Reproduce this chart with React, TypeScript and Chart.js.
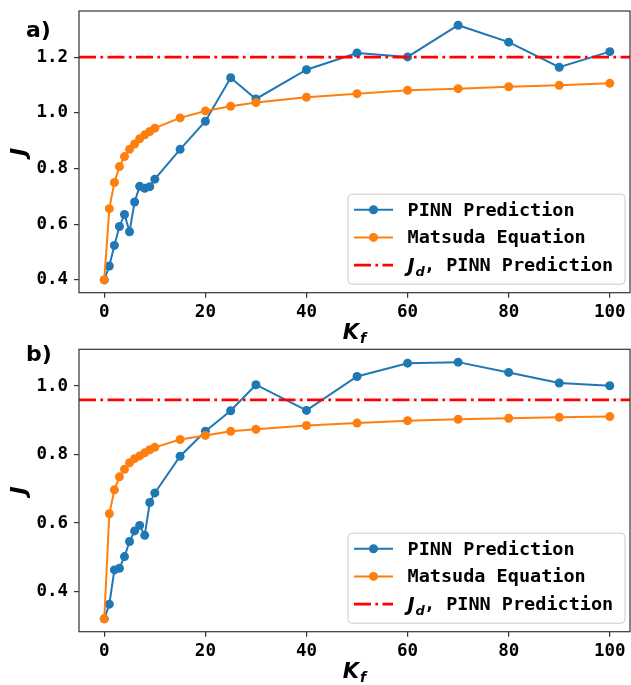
import React, { useEffect, useRef } from "react";
import { Chart, registerables } from "chart.js";

Chart.register(...registerables);

// ---------- data ----------
const kfValues = [0, 1, 2, 3, 4, 5, 6, 7, 8, 9, 10, 15, 20, 25, 30, 40, 50, 60, 70, 80, 90, 100];

const pinnA = [0.40, 0.45, 0.524, 0.592, 0.635, 0.573, 0.68, 0.736, 0.729, 0.735, 0.762, 0.869, 0.97, 1.126, 1.05, 1.155, 1.215, 1.201, 1.315, 1.254, 1.164, 1.22];
const matsudaA = [0.40, 0.656, 0.75, 0.807, 0.843, 0.869, 0.888, 0.907, 0.921, 0.933, 0.945, 0.982, 1.007, 1.024, 1.037, 1.056, 1.069, 1.081, 1.087, 1.094, 1.099, 1.106];
const jdA = 1.2;

const pinnB = [0.32, 0.363, 0.463, 0.468, 0.502, 0.546, 0.577, 0.593, 0.564, 0.66, 0.688, 0.795, 0.868, 0.928, 1.004, 0.929, 1.028, 1.067, 1.07, 1.04, 1.009, 1.001];
const matsudaB = [0.32, 0.627, 0.697, 0.735, 0.757, 0.776, 0.788, 0.796, 0.805, 0.814, 0.821, 0.844, 0.856, 0.868, 0.874, 0.885, 0.892, 0.899, 0.903, 0.906, 0.909, 0.911];
const jdB = 0.96;

const xTicks = [0, 20, 40, 60, 80, 100];
const yTicksA = [0.4, 0.6, 0.8, 1.0, 1.2];
const yTicksB = [0.4, 0.6, 0.8, 1.0];

const xRange = [-5, 104];
const yRangeA = [0.354, 1.366];
const yRangeB = [0.2825, 1.1075];

const seriesNames = ["PINN Prediction", "Matsuda Equation", ", PINN Prediction"];

// ---------- styles ----------
const BLUE = "#1f77b4";
const ORANGE = "#ff7f0e";
const RED = "#ff0000";
const AXIS = "#333333";
const MONO = '"DejaVu Sans Mono"';
const SANS = '"DejaVu Sans"';
const DASHDOT = [17, 4.4, 2.7, 4.4];

type PanelProps = {
  label: string;
  pinn: number[];
  matsuda: number[];
  jd: number;
  yRange: number[];
  yTicks: number[];
  height: number;
  padTop: number;
  xAxisHeight: number;
  labelBaseline: number;
  top: number;
};

function drawSub(ctx: CanvasRenderingContext2D, main: string, sub: string, x: number, y: number, size: number, subSize: number, align: "center" | "left") {
  ctx.font = `italic bold ${size}px ${SANS}`;
  const w1 = ctx.measureText(main).width;
  ctx.font = `italic bold ${subSize}px ${SANS}`;
  const w2 = ctx.measureText(sub).width;
  const total = w1 + w2 + 1;
  const x0 = align === "center" ? x - total / 2 : x;
  ctx.textAlign = "left";
  ctx.textBaseline = "alphabetic";
  ctx.font = `italic bold ${size}px ${SANS}`;
  ctx.fillText(main, x0, y);
  ctx.font = `italic bold ${subSize}px ${SANS}`;
  ctx.fillText(sub, x0 + w1 + 1, y + size * 0.2);
  return total;
}

function noPadding(s: any) {
  s._calculatePadding = () => {
    s.paddingLeft = 0;
    s.paddingRight = 0;
    s.paddingTop = 0;
    s.paddingBottom = 0;
  };
}

function makeDecor(p: PanelProps) {
  return {
    id: "decor",
    afterDraw(chart: any) {
      const ctx: CanvasRenderingContext2D = chart.ctx;
      const a = chart.chartArea;
      ctx.save();
      // frame
      ctx.strokeStyle = AXIS;
      ctx.lineWidth = 1.2;
      ctx.strokeRect(a.left, a.top, a.right - a.left, a.bottom - a.top);

      ctx.fillStyle = "#000";
      // panel label
      ctx.font = `bold 22px ${SANS}`;
      ctx.textAlign = "left";
      ctx.textBaseline = "alphabetic";
      ctx.fillText(p.label, 26, p.labelBaseline);

      // x title K_f
      drawSub(ctx, "K", "f", (a.left + a.right) / 2, a.bottom + 46, 21, 14, "center");

      // y title J
      ctx.save();
      ctx.translate(20, (a.top + a.bottom) / 2);
      ctx.rotate(-Math.PI / 2);
      ctx.font = `italic bold 22px ${SANS}`;
      ctx.textAlign = "center";
      ctx.textBaseline = "middle";
      ctx.fillText("J", 0, 0);
      ctx.restore();

      // legend
      const bw = 277, bh = 90;
      const bx = a.right - 5 - bw;
      const by = a.bottom - 8.5 - bh;
      ctx.beginPath();
      ctx.roundRect(bx, by, bw, bh, 4);
      ctx.fillStyle = "rgba(255,255,255,0.8)";
      ctx.fill();
      ctx.strokeStyle = "#cccccc";
      ctx.lineWidth = 1;
      ctx.stroke();

      const rows = [by + 15.5, by + 43.2, by + 71];
      const lx0 = bx + 6, lx1 = bx + 45, tx = bx + 59.5;
      const colors = [BLUE, ORANGE, RED];
      for (let i = 0; i < 3; i++) {
        const y = rows[i];
        ctx.beginPath();
        ctx.strokeStyle = colors[i];
        if (i === 2) {
          ctx.lineWidth = 2.7;
          ctx.setLineDash(DASHDOT);
        } else {
          ctx.lineWidth = 2;
          ctx.setLineDash([]);
        }
        ctx.moveTo(lx0, y);
        ctx.lineTo(lx1, y);
        ctx.stroke();
        ctx.setLineDash([]);
        if (i < 2) {
          ctx.beginPath();
          ctx.fillStyle = colors[i];
          ctx.arc((lx0 + lx1) / 2, y, 4.5, 0, Math.PI * 2);
          ctx.fill();
        }
        ctx.fillStyle = "#000";
        ctx.textBaseline = "middle";
        ctx.textAlign = "left";
        if (i < 2) {
          ctx.font = `bold 18.5px ${MONO}`;
          ctx.fillText(seriesNames[i], tx, y + 1);
        } else {
          const w = drawSub(ctx, "J", "d", tx, y + 7, 19, 13, "left");
          ctx.font = `bold 18.5px ${MONO}`;
          ctx.textBaseline = "middle";
          ctx.fillText(seriesNames[2], tx + w - 1, y + 1);
        }
      }
      ctx.restore();
    },
  };
}

function Panel(p: PanelProps) {
  const ref = useRef<HTMLCanvasElement | null>(null);
  useEffect(() => {
    if (!ref.current) return;
    const toXY = (arr: number[]) => kfValues.map((k, i) => ({ x: k, y: arr[i] }));
    const tickFont = { family: MONO, size: 17.5, weight: "bold" as const };
    const chart = new Chart(ref.current, {
      type: "line",
      data: {
        datasets: [
          {
            label: seriesNames[0],
            data: toXY(p.pinn),
            borderColor: BLUE,
            backgroundColor: BLUE,
            pointBackgroundColor: BLUE,
            pointBorderWidth: 0,
            pointRadius: 4.5,
            borderWidth: 2,
            order: 2,
          },
          {
            label: seriesNames[1],
            data: toXY(p.matsuda),
            borderColor: ORANGE,
            backgroundColor: ORANGE,
            pointBackgroundColor: ORANGE,
            pointBorderWidth: 0,
            pointRadius: 4.5,
            borderWidth: 2,
            order: 1,
          },
          {
            label: "Jd",
            data: [
              { x: xRange[0], y: p.jd },
              { x: xRange[1], y: p.jd },
            ],
            borderColor: RED,
            borderWidth: 2.7,
            borderDash: DASHDOT,
            pointRadius: 0,
            order: 0,
          },
        ],
      },
      options: {
        responsive: false,
        animation: false,
        devicePixelRatio: 1,
        layout: { autoPadding: false, padding: { left: 0, right: 1, top: p.padTop, bottom: 0 } },
        plugins: { legend: { display: false }, tooltip: { enabled: false } },
        scales: {
          x: {
            type: "linear",
            min: xRange[0],
            max: xRange[1],
            beforeFit: noPadding,
            afterBuildTicks: (s: any) => {
              s.ticks = xTicks.map((v) => ({ value: v }));
            },
            afterFit: (s: any) => {
              s.height = p.xAxisHeight;
            },
            ticks: {
              color: "#000",
              font: tickFont,
              padding: 4,
              maxRotation: 0,
              autoSkip: false,
              callback: (v: any) => String(v),
            },
            grid: { display: true, drawOnChartArea: false, drawTicks: true, tickLength: 5, color: AXIS, lineWidth: 1.2 },
            border: { display: false },
          },
          y: {
            type: "linear",
            min: p.yRange[0],
            max: p.yRange[1],
            beforeFit: noPadding,
            afterBuildTicks: (s: any) => {
              s.ticks = p.yTicks.map((v) => ({ value: v }));
            },
            afterFit: (s: any) => {
              s.width = 79;
            },
            ticks: {
              color: "#000",
              font: tickFont,
              padding: 6,
              autoSkip: false,
              callback: (v: any) => Number(v).toFixed(1),
            },
            grid: { display: true, drawOnChartArea: false, drawTicks: true, tickLength: 5, color: AXIS, lineWidth: 1.2 },
            border: { display: false },
          },
        },
      },
      plugins: [makeDecor(p)],
    } as any);
    return () => chart.destroy();
  }, []);
  return (
    <canvas
      ref={ref}
      width={631}
      height={p.height}
      style={{ position: "absolute", left: 0, top: p.top, width: 631, height: p.height, display: "block" }}
    />
  );
}

export default function App() {
  return (
    <div style={{ position: "absolute", left: 0, top: 0, width: 631, height: 685, background: "#fff" }}>
      <Panel
        label="a)"
        pinn={pinnA}
        matsuda={matsudaA}
        jd={jdA}
        yRange={yRangeA}
        yTicks={yTicksA}
        height={344}
        padTop={11}
        xAxisHeight={51.3}
        labelBaseline={36.5}
        top={0}
      />
      <Panel
        label="b)"
        pinn={pinnB}
        matsuda={matsudaB}
        jd={jdB}
        yRange={yRangeB}
        yTicks={yTicksB}
        height={341}
        padTop={5.3}
        xAxisHeight={53.3}
        labelBaseline={16.7}
        top={344}
      />
    </div>
  );
}
